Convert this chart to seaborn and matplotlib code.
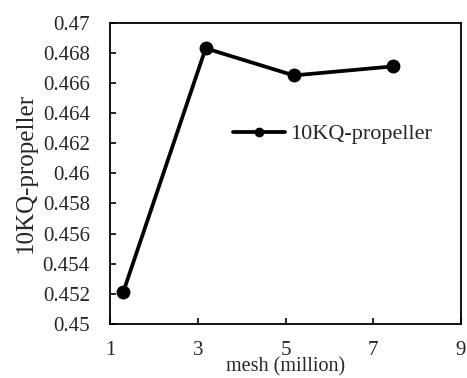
import matplotlib
matplotlib.use("Agg")
import matplotlib.pyplot as plt
import seaborn as sns
import pandas as pd

mesh = [1.30, 3.18, 5.19, 7.45]
kq = [0.4521, 0.4683, 0.4665, 0.4671]
series_name = "10KQ-propeller"
x_ticks = [1, 3, 5, 7, 9]
y_ticks = [0.45, 0.452, 0.454, 0.456, 0.458, 0.46, 0.462, 0.464, 0.466, 0.468, 0.47]
y_tick_labels = ["0.45", "0.452", "0.454", "0.456", "0.458", "0.46", "0.462", "0.464", "0.466", "0.468", "0.47"]

sns.set_theme(style="white")
plt.rcParams['font.family'] = ['Liberation Serif', 'DejaVu Serif']

df = pd.DataFrame({"mesh": mesh, "kq": kq, "series": series_name})

fig = plt.figure(figsize=(4.67, 3.78), dpi=100)
ax = fig.add_axes([110/467, 1 - 324/378, 351/467, (324 - 22.7)/378])

sns.lineplot(data=df, x="mesh", y="kq", hue="series", palette=["black"],
             marker="o", markersize=10, linewidth=2.7, markeredgewidth=0,
             ax=ax, legend=True)

ax.set_xlim(1, 9)
ax.set_ylim(0.45, 0.47)
ax.set_xticks(x_ticks)
ax.set_xticklabels([str(t) for t in x_ticks])
ax.set_yticks(y_ticks)
ax.set_yticklabels(y_tick_labels)

for s in ax.spines.values():
    s.set_color("black")
    s.set_linewidth(1.3)

ax.tick_params(axis="x", direction="in", length=4, width=1.2, color="black",
               labelsize=15, pad=12.5, bottom=True)
ax.tick_params(axis="y", direction="in", length=4, width=1.2, color="black",
               labelsize=15, pad=14.5, left=True)

ax.set_xlabel("mesh (million)", fontsize=14.5, labelpad=-2.5)
ax.set_ylabel("10KQ-propeller", fontsize=18, labelpad=4.5)

leg = ax.legend(loc="center left", bbox_to_anchor=(0.35, 0.63), frameon=False,
                fontsize=16, handlelength=2.35, handletextpad=0.22,
                borderpad=0, borderaxespad=0, markerscale=0.7)

fig.savefig("out.png", dpi=100)
